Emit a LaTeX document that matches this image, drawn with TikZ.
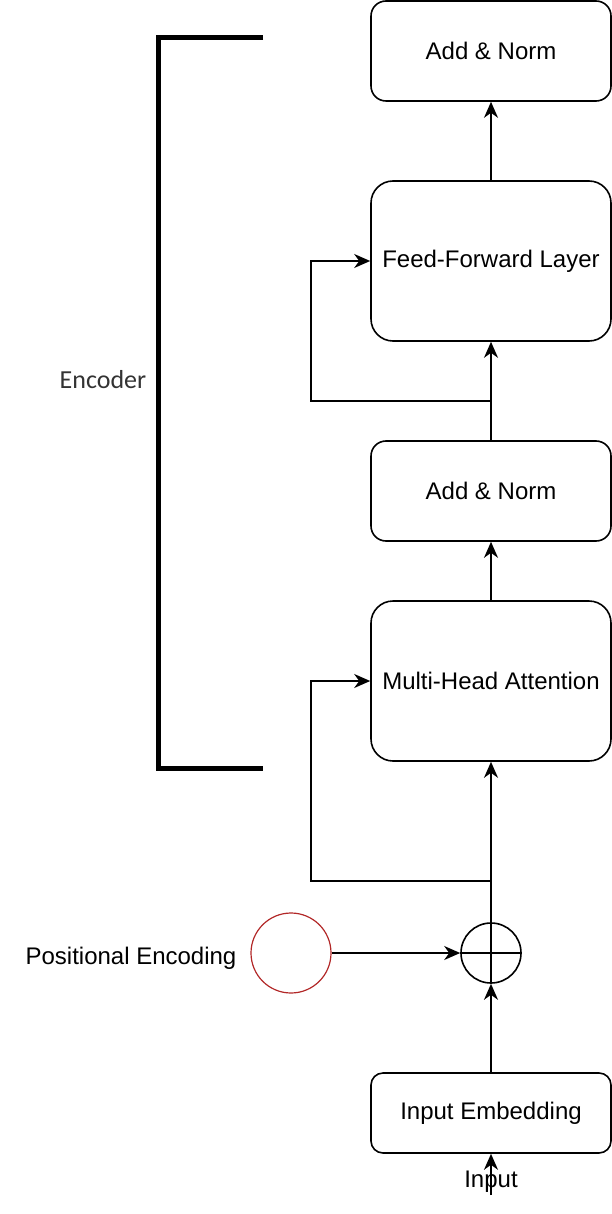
\documentclass[tikz,border=0pt]{standalone}
\usepackage{fontspec}
\setmainfont{Liberation Sans}
\newfontfamily\encfont{Carlito}
\usetikzlibrary{arrows.meta}
\definecolor{pered}{RGB}{178,40,40}
\definecolor{encgray}{RGB}{51,51,51}
\begin{document}
\begin{tikzpicture}[x=1pt, y=-1pt,
  block/.style={draw, line width=1.6pt, rounded corners=15pt, minimum width=240pt, minimum height=100pt, inner sep=0pt, font=\fontsize{24}{28}\selectfont},
  tallblock/.style={block, rounded corners=22pt, minimum height=160pt},
  lbl/.style={font=\fontsize{24}{28}\selectfont, inner sep=0pt},
  arr/.style={line width=1.6pt, -{Stealth[length=16pt, width=14pt, inset=5pt]}},
  wire/.style={line width=1.6pt}]
  \useasboundingbox (0,0) rectangle (612,1214);

  % Encoder stack
  \node[block] (an1) at (491,51) {Add \& Norm};
  \node[tallblock] (ff) at (491,261) {Feed-Forward Layer};
  \node[block] (an2) at (491,491) {Add \& Norm};
  \node[tallblock] (mha) at (491,681) {Multi-Head Attention};

  % Input side
  \node[draw, circle, line width=1.6pt, minimum size=60pt, inner sep=0pt] (plus) at (491,953) {};
  \draw[wire] (plus.north) -- (plus.south) (plus.west) -- (plus.east);
  \node[draw=pered, circle, line width=1.2pt, minimum size=80pt, inner sep=0pt] (pe) at (291,953) {};
  \node[lbl] (pelbl) at (131,958) {Positional Encoding};
  \node[block, rounded corners=12pt, minimum height=80pt] (emb) at (491,1113) {Input Embedding};
  \node[lbl] (in) at (491,1182) {Input};
  \coordinate (src) at (491,1195);

  % Flow
  \draw[arr] (src) -- (emb.south);
  \draw[arr] (emb.north) -- (plus.south);
  \draw[arr] (pe.east) -- (plus.west);
  \draw[arr] (plus.north) -- (mha.south);
  \draw[arr] (mha.north) -- (an2.south);
  \draw[arr] (an2.north) -- (ff.south);
  \draw[arr] (ff.north) -- (an1.south);

  % Residual paths
  \coordinate (r1) at (491,881);
  \coordinate (k1) at (311,881);
  \draw[arr] (r1) -- (k1) |- (mha.west);
  \coordinate (r2) at (491,401);
  \coordinate (k2) at (311,401);
  \draw[arr] (r2) -- (k2) |- (ff.west);

  % Bracket
  \draw[line width=5pt] (263,38) -- (158,38) -- (158,768) -- (263,768);
  \node[font=\encfont\fontsize{26}{30}\selectfont, text=encgray, inner sep=0pt] (enc) at (103,380) {Encoder};
\end{tikzpicture}
\end{document}
